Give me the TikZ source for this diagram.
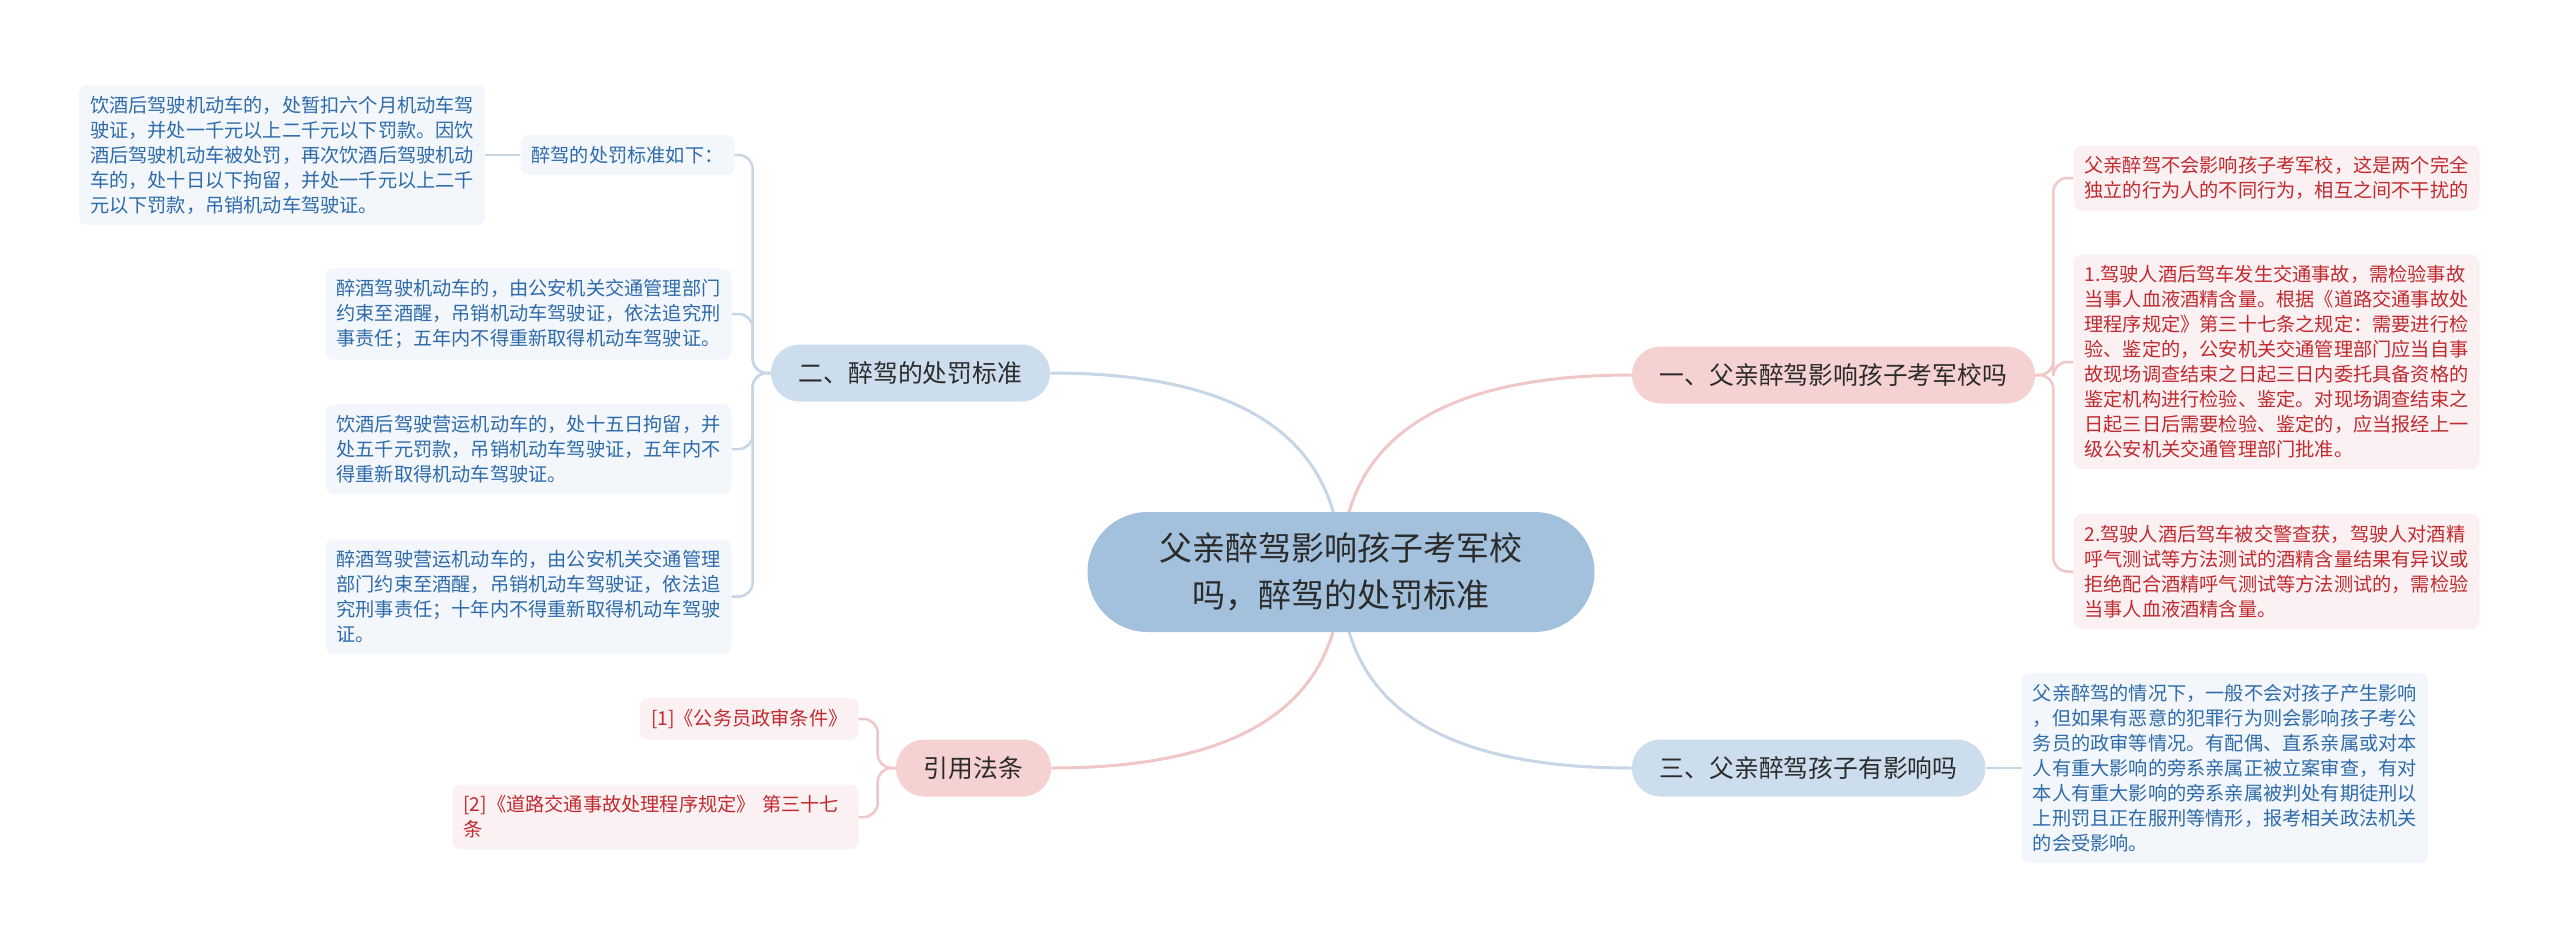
\documentclass[tikz,border=0pt]{standalone}
\usepackage{fontspec}
\setmainfont{Noto Sans CJK SC}
\usetikzlibrary{positioning,backgrounds,calc}
\setlength{\parindent}{0pt}

\definecolor{rootfill}{HTML}{A3C1DC}
\definecolor{pinkfill}{HTML}{F6D1D2}
\definecolor{bluefill}{HTML}{CCDDEE}
\definecolor{pinkleaf}{HTML}{FCF1F2}
\definecolor{blueleaf}{HTML}{F3F7FC}
\definecolor{redtext}{HTML}{C12A2F}
\definecolor{bluetext}{HTML}{2E6BAA}
\definecolor{pinkline}{HTML}{F0C6C7}
\definecolor{blueline}{HTML}{C6D6E6}
\definecolor{darktext}{HTML}{2B2B2B}

\begin{document}
\begin{tikzpicture}[
        every node/.style={align=left, inner sep=0pt},
        root/.style={fill=rootfill, text=darktext, align=center, font=\fontsize{33pt}{46.7pt}\selectfont,
            minimum width=507pt, minimum height=120pt, rounded corners=60pt},
        topic/.style={text=darktext, font=\fontsize{24.8pt}{30pt}\selectfont, minimum height=57pt,
            inner xsep=28pt, rounded corners=28.5pt},
        topicred/.style={topic, fill=pinkfill},
        topicblue/.style={topic, fill=bluefill},
        leaf/.style={font=\fontsize{19.2pt}{25pt}\selectfont, inner xsep=11pt, inner ysep=11pt, rounded corners=8pt},
        wide/.style={text width=384pt},
        leafred/.style={leaf, fill=pinkleaf, text=redtext},
        leafblue/.style={leaf, fill=blueleaf, text=bluetext},
        linkred/.style={draw=pinkline, line width=2.5pt, rounded corners=14pt},
        linkblue/.style={draw=blueline, line width=2.5pt, rounded corners=14pt}
    ]
    \useasboundingbox (0,0) rectangle (2560pt,-948pt);

    % Nodes
    \node[root] (root) at (1341pt,-572pt) {父亲醉驾影响孩子考军校\\吗，醉驾的处罚标准};

    \node[topicred] (drive) [right=37pt of root, yshift=197pt] {一、父亲醉驾影响孩子考军校吗};
    \node[topicblue] (punish) [left=37pt of root, yshift=199pt] {二、醉驾的处罚标准};
    \node[topicblue] (effect) [right=37pt of root, yshift=-196pt] {三、父亲醉驾孩子有影响吗};
    \node[topicred] (laws) [left=36pt of root, yshift=-196pt] {引用法条};

    \node[leafred, wide] (apart) [right=38pt of drive, yshift=197pt] {父亲醉驾不会影响孩子考军校，这是两个完全\\
        独立的行为人的不同行为，相互之间不干扰的};
    \node[leafred, wide] (blood) [right=38pt of drive, yshift=13pt] {1.驾驶人酒后驾车发生交通事故，需检验事故\\
        当事人血液酒精含量。根据《道路交通事故处\\
        理程序规定》第三十七条之规定：需要进行检\\
        验、鉴定的，公安机关交通管理部门应当自事\\
        故现场调查结束之日起三日内委托具备资格的\\
        鉴定机构进行检验、鉴定。对现场调查结束之\\
        日起三日后需要检验、鉴定的，应当报经上一\\
        级公安机关交通管理部门批准。};
    \node[leafred, wide] (caught) [right=38pt of drive, yshift=-196.5pt] {2.驾驶人酒后驾车被交警查获，驾驶人对酒精\\
        呼气测试等方法测试的酒精含量结果有异议或\\
        拒绝配合酒精呼气测试等方法测试的，需检验\\
        当事人血液酒精含量。};

    \node[leafblue, wide] (review) [right=36pt of effect] {父亲醉驾的情况下，一般不会对孩子产生影响\\
        ，但如果有恶意的犯罪行为则会影响孩子考公\\
        务员的政审等情况。有配偶、直系亲属或对本\\
        人有重大影响的旁系亲属正被立案审查，有对\\
        本人有重大影响的旁系亲属被判处有期徒刑以\\
        上刑罚且正在服刑等情形，报考相关政法机关\\
        的会受影响。};

    \node[leafblue] (rules) [left=36pt of punish, yshift=218pt] {醉驾的处罚标准如下：};
    \node[leafblue, wide] (drink) [left=35pt of rules] {饮酒后驾驶机动车的，处暂扣六个月机动车驾\\
        驶证，并处一千元以上二千元以下罚款。因饮\\
        酒后驾驶机动车被处罚，再次饮酒后驾驶机动\\
        车的，处十日以下拘留，并处一千元以上二千\\
        元以下罚款，吊销机动车驾驶证。};
    \node[leafblue, wide] (drunk) [left=39pt of punish, yshift=59pt] {醉酒驾驶机动车的，由公安机关交通管理部门\\
        约束至酒醒，吊销机动车驾驶证，依法追究刑\\
        事责任；五年内不得重新取得机动车驾驶证。};
    \node[leafblue, wide] (bus) [left=39pt of punish, yshift=-76pt] {饮酒后驾驶营运机动车的，处十五日拘留，并\\
        处五千元罚款，吊销机动车驾驶证，五年内不\\
        得重新取得机动车驾驶证。};
    \node[leafblue, wide] (busdrunk) [left=39pt of punish, yshift=-223.5pt] {醉酒驾驶营运机动车的，由公安机关交通管理\\
        部门约束至酒醒，吊销机动车驾驶证，依法追\\
        究刑事责任；十年内不得重新取得机动车驾驶\\
        证。};

    \node[leafred] (ref1) [left=37pt of laws, yshift=49pt] {[1]《公务员政审条件》};
    \node[leafred, wide] (ref2) [left=37pt of laws, yshift=-49pt] {[2]《道路交通事故处理程序规定》 第三十七\\
        条};

    % Edges
    \begin{scope}[on background layer]
        \draw[linkred, line width=3pt] (root.center)
            .. controls ($(root.center)!0.667!(root.center |- drive.west)$)
            and ($(drive.west)!0.667!(root.center |- drive.west)$) .. (drive.west);
        \draw[linkblue, line width=3pt] (root.center)
            .. controls ($(root.center)!0.667!(root.center |- punish.east)$)
            and ($(punish.east)!0.667!(root.center |- punish.east)$) .. (punish.east);
        \draw[linkblue, line width=3pt] (root.center)
            .. controls ($(root.center)!0.667!(root.center |- effect.west)$)
            and ($(effect.west)!0.667!(root.center |- effect.west)$) .. (effect.west);
        \draw[linkred, line width=3pt] (root.center)
            .. controls ($(root.center)!0.667!(root.center |- laws.east)$)
            and ($(laws.east)!0.667!(root.center |- laws.east)$) .. (laws.east);
    \end{scope}

    \draw[linkred] (drive.east) -- ++(18pt,0) |- (apart.west);
    \draw[linkred] (drive.east) -- ++(18pt,0) |- (blood.west);
    \draw[linkred] (drive.east) -- ++(18pt,0) |- (caught.west);

    \draw[linkblue] (effect.east) -- (review.west);

    \draw[linkblue] (punish.west) -- ++(-18pt,0) |- (rules.east);
    \draw[linkblue] (punish.west) -- ++(-18pt,0) |- (drunk.east);
    \draw[linkblue] (punish.west) -- ++(-18pt,0) |- (bus.east);
    \draw[linkblue] (punish.west) -- ++(-18pt,0) |- (busdrunk.east);
    \draw[linkblue] (rules.west) -- (drink.east);

    \draw[linkred] (laws.west) -- ++(-18pt,0) |- (ref1.east);
    \draw[linkred] (laws.west) -- ++(-18pt,0) |- (ref2.east);

\end{tikzpicture}
\end{document}
